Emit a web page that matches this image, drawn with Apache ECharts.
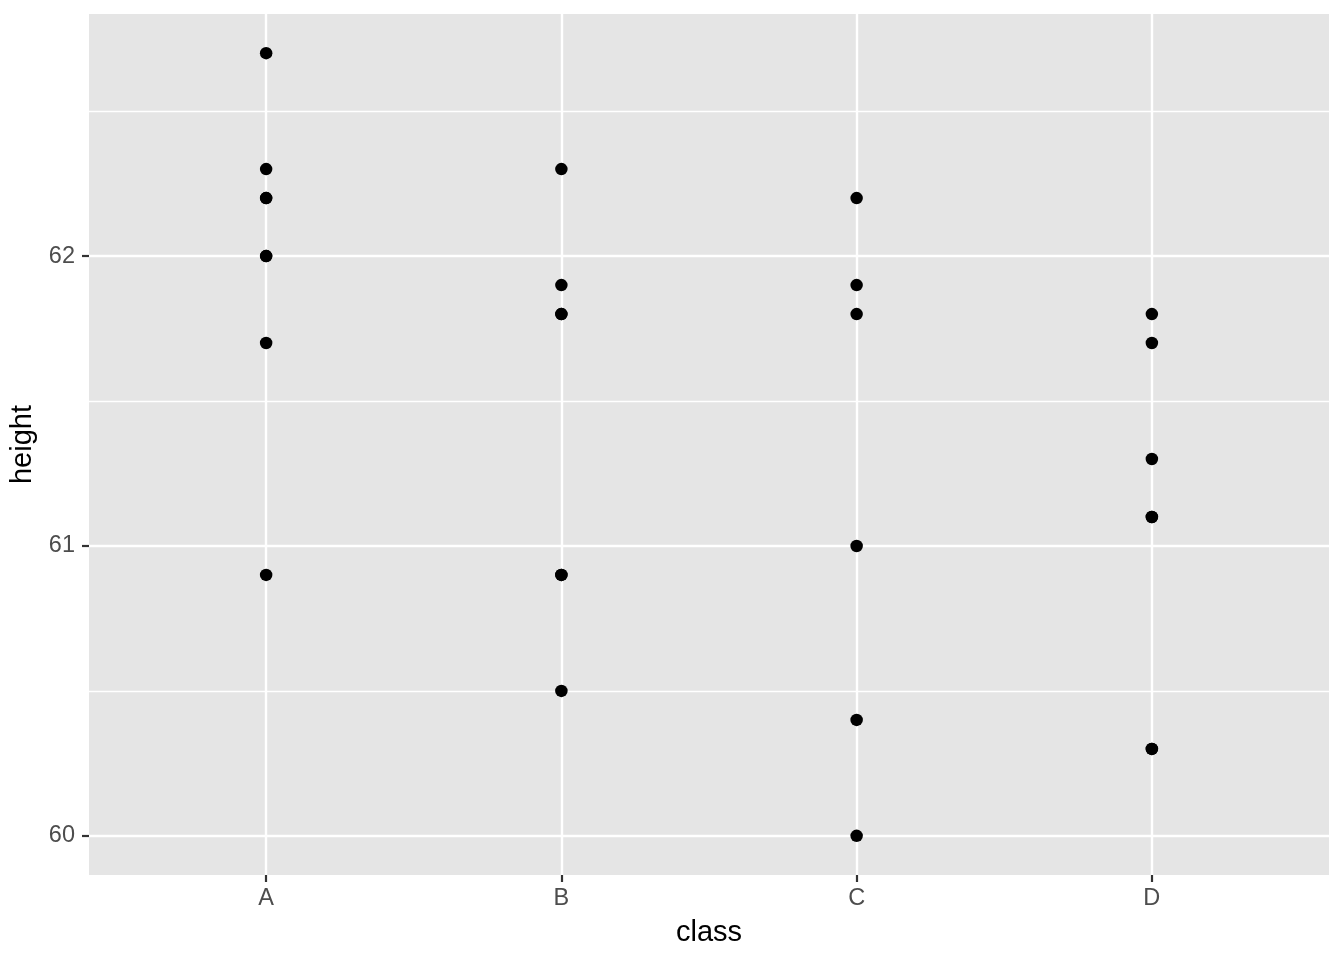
<!DOCTYPE html>
<html>
<head>
<meta charset="utf-8">
<script src="https://cdn.jsdelivr.net/npm/echarts@6/dist/echarts.min.js"></script>
<style>
html,body{margin:0;padding:0;background:#fff;}
#chart{width:1344px;height:960px;}
</style>
</head>
<body>
<div id="chart"></div>
<script>
// ---- data ----
const categories = ['A', 'B', 'C', 'D'];
const heightsA = [62.7, 62.3, 62.2, 62.2, 62.0, 62.0, 61.7, 60.9];
const heightsB = [62.3, 61.9, 61.8, 61.8, 60.9, 60.9, 60.5];
const heightsC = [62.2, 61.9, 61.8, 61.0, 60.4, 60.0];
const heightsD = [61.8, 61.7, 61.3, 61.1, 61.1, 60.3, 60.3];
const yTicks = [60, 61, 62];
const yMinorTicks = [60.5, 61.5, 62.5];

const groups = [heightsA, heightsB, heightsC, heightsD];
const points = [];
groups.forEach((arr, i) => arr.forEach(v => points.push([i + 1, v])));
const xPos = categories.map((c, i) => i + 1);

const font = 'Liberation Sans, Arial, Helvetica, sans-serif';
const chart = echarts.init(document.getElementById('chart'), null, {renderer: 'canvas'});
chart.setOption({
  animation: false,
  backgroundColor: '#ffffff',
  grid: {left: 89, right: 15, top: 14, bottom: 85, show: true, backgroundColor: '#E5E5E5', borderWidth: 0},
  xAxis: {
    type: 'value', min: 0.4, max: 4.6,
    name: 'class', nameLocation: 'middle', nameGap: 43,
    nameTextStyle: {fontFamily: font, fontSize: 29, color: '#000'},
    axisLine: {show: false},
    axisTick: {show: true, length: 7, customValues: xPos, lineStyle: {color: '#333333', width: 2.2}},
    axisLabel: {customValues: xPos, margin: 12, fontFamily: font, fontSize: 23.5, color: '#4D4D4D',
      formatter: v => categories[Math.round(v) - 1] || ''},
    splitLine: {show: false}
  },
  yAxis: {
    type: 'value', min: 59.865, max: 62.835,
    name: 'height', nameLocation: 'middle', nameGap: 48, nameRotate: 90,
    nameTextStyle: {fontFamily: font, fontSize: 29, color: '#000'},
    axisLine: {show: false},
    axisTick: {show: true, length: 7, customValues: yTicks, lineStyle: {color: '#333333', width: 2.2}},
    axisLabel: {customValues: yTicks, margin: 14, fontFamily: font, fontSize: 23.5, color: '#4D4D4D'},
    splitLine: {show: false}
  },
  series: [
    {
      type: 'scatter', data: [], z: 1, silent: true,
      markLine: {
        silent: true, symbol: ['none', 'none'], z: 1, animation: false,
        label: {show: false},
        data: [
          ...yMinorTicks.map(v => ({yAxis: v, lineStyle: {color: '#ffffff', width: 1.3, type: 'solid'}})),
          ...yTicks.map(v => ({yAxis: v, lineStyle: {color: '#ffffff', width: 2.4, type: 'solid'}})),
          ...xPos.map(v => ({xAxis: v, lineStyle: {color: '#ffffff', width: 2.4, type: 'solid'}}))
        ]
      }
    },
    {
      type: 'scatter', data: points, z: 3,
      symbol: 'circle', symbolSize: 12.5,
      itemStyle: {color: '#000000', opacity: 1}
    }
  ]
});
</script>
</body>
</html>
